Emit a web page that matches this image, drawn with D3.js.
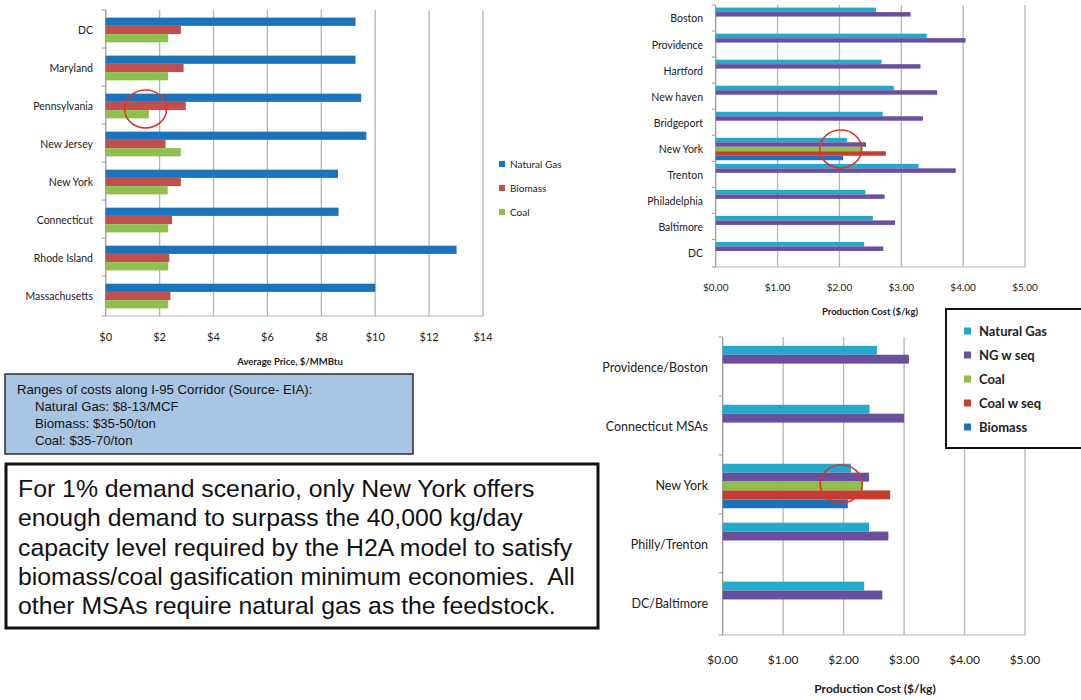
<!DOCTYPE html>
<html lang="en">
<head>
<meta charset="utf-8">
<title>Feedstock prices and H2 production cost along the I-95 corridor</title>
<script src="https://cdn.jsdelivr.net/npm/d3@7/dist/d3.min.js"></script>
<style>
  body { margin: 0; background: #fff; }
  svg text { font-family: Lato, "Open Sans", sans-serif; fill: #222; }
  svg text.note { font-family: "Liberation Sans", Arial, sans-serif; fill: #111; white-space: pre; }
</style>
</head>
<body>
<script>
// ---- chart 1: average feedstock price by state ----
var stateNames = ["DC", "Maryland", "Pennsylvania", "New Jersey", "New York", "Connecticut", "Rhode Island", "Massachusetts"];
var fuelSeries = ["Natural Gas", "Biomass", "Coal"];
var stateNatGas = [9.27, 9.27, 9.48, 9.67, 8.62, 8.64, 13.02, 10.0];
var stateBiomass = [2.79, 2.89, 2.97, 2.22, 2.79, 2.46, 2.36, 2.40];
var stateCoal = [2.32, 2.32, 1.60, 2.79, 2.30, 2.32, 2.32, 2.32];
var priceTicks = [0, 2, 4, 6, 8, 10, 12, 14];

// ---- chart 2: production cost by city ----
var cityNames = ["Boston", "Providence", "Hartford", "New haven", "Bridgeport", "New York", "Trenton", "Philadelphia", "Baltimore", "DC"];
var h2Series = ["Natural Gas", "NG w seq", "Coal", "Coal w seq", "Biomass"];
var cityNG = [2.59, 3.41, 2.68, 2.88, 2.70, 2.12, 3.28, 2.42, 2.54, 2.40];
var cityNGseq = [3.15, 4.04, 3.31, 3.58, 3.35, 2.43, 3.88, 2.73, 2.90, 2.71];
var cityCoal = [null, null, null, null, null, 2.36, null, null, null, null];
var cityCoalSeq = [null, null, null, null, null, 2.75, null, null, null, null];
var cityBiomass = [null, null, null, null, null, 2.06, null, null, null, null];

// ---- chart 3: production cost by MSA ----
var msaNames = ["Providence/Boston", "Connecticut MSAs", "New York", "Philly/Trenton", "DC/Baltimore"];
var msaNG = [2.55, 2.43, 2.12, 2.42, 2.34];
var msaNGseq = [3.08, 3.00, 2.42, 2.74, 2.64];
var msaCoal = [null, null, 2.32, null, null];
var msaCoalSeq = [null, null, 2.77, null, null];
var msaBiomass = [null, null, 2.07, null, null];
var costTicks = [0, 1, 2, 3, 4, 5];

var noteLines = ["Ranges of costs along I-95 Corridor (Source- EIA):",
                 "Natural Gas: $8-13/MCF",
                 "Biomass: $35-50/ton",
                 "Coal: $35-70/ton"];
var summaryLines = ["For 1% demand scenario, only New York offers",
                    "enough demand to surpass the 40,000 kg/day",
                    "capacity level required by the H2A model to satisfy",
                    "biomass/coal gasification minimum economies.  All",
                    "other MSAs require natural gas as the feedstock."];

var fuelColors = ["#1b74bb", "#c0504d", "#8fc04f"];
var h2Colors = ["#22a9cb", "#6a4f9f", "#8fbf47", "#c43d30", "#1b74bb"];

var svg = d3.select("body").append("svg")
    .attr("width", 1081)
    .attr("height", 700);

// generic horizontal grouped bar chart
function barChart(opt) {
    var g = svg.append("g");

    var x = d3.scaleLinear().domain(opt.domain).range([opt.left, opt.right]);
    var y = d3.scaleBand().domain(opt.cats).range([opt.top, opt.bottom])
        .paddingInner(opt.padIn).paddingOuter(opt.padOut);
    var sub = d3.scaleBand().domain(d3.range(opt.series.length)).range([0, y.bandwidth()]);

    // grid lines
    g.selectAll(".grid").data(opt.ticks).enter().append("line")
        .attr("x1", function(d) { return x(d); })
        .attr("x2", function(d) { return x(d); })
        .attr("y1", opt.top)
        .attr("y2", opt.bottom)
        .attr("stroke", function(d) { return d === 0 ? "#9a9a9a" : "#b5b5b5"; })
        .attr("stroke-width", 1.3);

    // bottom axis line
    g.append("line")
        .attr("x1", x(opt.domain[0])).attr("x2", x(opt.domain[1]))
        .attr("y1", opt.bottom).attr("y2", opt.bottom)
        .attr("stroke", "#b5b5b5");

    // small ticks between categories
    var edges = opt.cats.map(function(c, i) { return opt.top + i * y.step(); });
    edges.push(opt.bottom);
    g.selectAll(".ctick").data(edges).enter().append("line")
        .attr("x1", x(0) - 4).attr("x2", x(0))
        .attr("y1", function(d) { return d; })
        .attr("y2", function(d) { return d; })
        .attr("stroke", "#9a9a9a");

    // bars: one record per non-empty value
    var recs = [];
    opt.values.forEach(function(vals, s) {
        vals.forEach(function(v, i) {
            if (v !== null) recs.push({ cat: opt.cats[i], s: s, v: v });
        });
    });
    g.selectAll(".bar").data(recs).enter().append("rect")
        .attr("x", x(0))
        .attr("y", function(d) { return y(d.cat) + sub(d.s); })
        .attr("width", function(d) { return x(d.v) - x(0); })
        .attr("height", sub.bandwidth())
        .attr("fill", function(d) { return opt.colors[d.s]; });

    // category labels
    g.selectAll(".clabel").data(opt.cats).enter().append("text")
        .attr("x", opt.labelX)
        .attr("y", function(d) { return y(d) + y.bandwidth() / 2; })
        .attr("dy", "0.35em")
        .attr("text-anchor", "end")
        .attr("font-size", opt.catSize)
        .text(function(d) { return d; });

    // tick labels
    g.selectAll(".tlabel").data(opt.ticks).enter().append("text")
        .attr("x", function(d) { return x(d); })
        .attr("y", opt.tickY)
        .attr("dy", "0.35em")
        .attr("text-anchor", "middle")
        .attr("font-size", opt.tickSize)
        .text(opt.tickFormat);

    // axis title
    g.append("text")
        .attr("x", opt.titleX)
        .attr("y", opt.titleY)
        .attr("dy", "0.35em")
        .attr("text-anchor", "middle")
        .attr("font-size", opt.titleSize)
        .attr("font-weight", "bold")
        .text(opt.title);

    return { x: x, y: y };
}

var c1 = barChart({
    cats: stateNames, series: fuelSeries, colors: fuelColors,
    values: [stateNatGas, stateBiomass, stateCoal],
    domain: [0, 14], ticks: priceTicks,
    left: 105.7, right: 483, top: 10, bottom: 316,
    padIn: 0.35, padOut: 0.2,
    labelX: 93, catSize: 10.5,
    tickY: 337, tickSize: 11, tickFormat: function(d) { return "$" + d; },
    title: "Average Price, $/MMBtu", titleX: 290, titleY: 362, titleSize: 9.5
});

var c2 = barChart({
    cats: cityNames, series: h2Series, colors: h2Colors,
    values: [cityNG, cityNGseq, cityCoal, cityCoalSeq, cityBiomass],
    domain: [0, 5], ticks: costTicks,
    left: 715.7, right: 1025, top: 5, bottom: 267,
    padIn: 0.14, padOut: 0.1,
    labelX: 703, catSize: 10.5,
    tickY: 287, tickSize: 10, tickFormat: function(d) { return "$" + d.toFixed(2); },
    title: "Production Cost ($/kg)", titleX: 870, titleY: 312, titleSize: 9.5
});

var c3 = barChart({
    cats: msaNames, series: h2Series, colors: h2Colors,
    values: [msaNG, msaNGseq, msaCoal, msaCoalSeq, msaBiomass],
    domain: [0, 5], ticks: costTicks,
    left: 722.7, right: 1025, top: 337, bottom: 635,
    padIn: 0.245, padOut: 0.15,
    labelX: 708, catSize: 12.5,
    tickY: 660, tickSize: 12, tickFormat: function(d) { return "$" + d.toFixed(2); },
    title: "Production Cost ($/kg)", titleX: 875, titleY: 689, titleSize: 12
});

// legend for chart 1 (no frame)
var leg1 = svg.append("g");
fuelSeries.forEach(function(name, i) {
    leg1.append("rect").attr("x", 499).attr("y", 161 + i * 24).attr("width", 6).attr("height", 6)
        .attr("fill", fuelColors[i]);
    leg1.append("text").attr("x", 510).attr("y", 164 + i * 24).attr("dy", "0.35em")
        .attr("font-size", 10).text(name);
});

// framed legend for chart 3
var leg3 = svg.append("g");
leg3.append("rect").attr("x", 946).attr("y", 309).attr("width", 150).attr("height", 139)
    .attr("fill", "#fff").attr("stroke", "#111").attr("stroke-width", 2);
h2Series.forEach(function(name, i) {
    leg3.append("rect").attr("x", 964).attr("y", 327.5 + i * 24).attr("width", 7).attr("height", 7)
        .attr("fill", h2Colors[i]);
    leg3.append("text").attr("x", 979).attr("y", 331 + i * 24).attr("dy", "0.35em")
        .attr("font-size", 13).attr("font-weight", "bold").text(name);
});

// red highlight circles
function ring(cx, cy) {
    svg.append("ellipse").attr("cx", cx).attr("cy", cy).attr("rx", 21).attr("ry", 19)
        .attr("fill", "none").attr("stroke", "#d9362b").attr("stroke-width", 1.6);
}
ring(c1.x(1.48), c1.y("Pennsylvania") + c1.y.bandwidth() / 2 + 3);
ring(c2.x(2.02), c2.y("New York") + c2.y.bandwidth() / 2);
ring(c3.x(1.96), c3.y("New York") + c3.y.bandwidth() / 2 - 2);

// blue note box
var note = svg.append("g");
note.append("rect").attr("x", 5).attr("y", 374).attr("width", 408).attr("height", 80)
    .attr("fill", "#a8c5e3").attr("stroke", "#2b2b2b").attr("stroke-width", 1.5);
noteLines.forEach(function(t, i) {
    note.append("text").attr("class", "note")
        .attr("x", i === 0 ? 17 : 35).attr("y", 389 + i * 17).attr("dy", "0.35em")
        .attr("font-size", 13.2).text(t);
});

// summary box
var sum = svg.append("g");
sum.append("rect").attr("x", 6).attr("y", 464).attr("width", 592).attr("height", 164)
    .attr("fill", "#fff").attr("stroke", "#111").attr("stroke-width", 3);
summaryLines.forEach(function(t, i) {
    sum.append("text").attr("class", "note")
        .attr("x", 18).attr("y", 497 + i * 29.3)
        .attr("font-size", 24.8).text(t);
});
</script>
</body>
</html>
